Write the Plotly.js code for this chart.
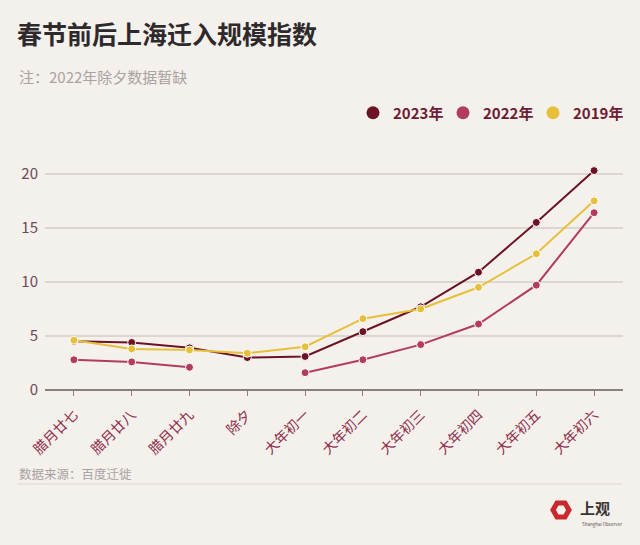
<!DOCTYPE html>
<html>
<head>
<meta charset="utf-8">
<script src="https://cdn.plot.ly/plotly-3.0.1.min.js"></script>
<style>
  body { margin: 0; background: #f4f0eb; }
  #chart { width: 640px; height: 545px; }
</style>
</head>
<body>
<div id="chart"></div>
<script>
// days around the spring festival
var days = ["腊月廿七", "腊月廿八", "腊月廿九", "除夕", "大年初一", "大年初二",
            "大年初三", "大年初四", "大年初五", "大年初六"];

// migration index
var y2023 = [4.5, 4.4, 3.9, 3.0, 3.1, 5.4, 7.7, 10.9, 15.5, 20.3];
var y2022 = [2.8, 2.6, 2.1, null, 1.6, 2.8, 4.2, 6.1, 9.7, 16.4];
var y2019 = [4.6, 3.8, 3.7, 3.4, 4.0, 6.6, 7.5, 9.5, 12.6, 17.5];

var names = ["2023年", "2022年", "2019年"];
var colors = ["#6b1325", "#b23c5e", "#e6c03a"];

var font = "'Noto Sans CJK SC', 'Noto Sans', sans-serif";

// plot box in pixels, used to place the extra texts
var L = 45, R = 623, T = 163, B = 390;
function px(x) { return (x - L) / (R - L); }
function py(y) { return (B - y) / (B - T); }

function series(ys, i) {
  return {
    x: days, y: ys, name: names[i],
    type: "scatter", mode: "lines+markers",
    connectgaps: false, showlegend: false,
    line: { color: colors[i], width: 2 },
    marker: { color: colors[i], size: 8, line: { color: "#ffffff", width: 1 } }
  };
}

// legend shows only dots, so use empty marker traces for it
function legendDot(i) {
  return {
    x: [null], y: [null], name: names[i],
    type: "scatter", mode: "markers",
    marker: { color: colors[i], size: 13 }
  };
}

var data = [
  series(y2023, 0), series(y2022, 1), series(y2019, 2),
  legendDot(0), legendDot(1), legendDot(2)
];

// red hexagon of the logo
var hx = 561, hy = 510, hr = 8;
var hex = "";
for (var i = 0; i < 6; i++) {
  var a = i * Math.PI / 3;
  hex += (i == 0 ? "M" : "L") + px(hx + hr * Math.cos(a)) + "," + py(hy + hr * Math.sin(a));
}
hex += "Z";

var layout = {
  width: 640, height: 545,
  paper_bgcolor: "#f4f0eb",
  plot_bgcolor: "#f4f0eb",
  margin: { l: L, r: 640 - R, t: T, b: 545 - B },
  font: { family: font },
  title: {
    text: "<b>春节前后上海迁入规模指数</b>",
    font: { size: 25, color: "#2e2a2b", family: font },
    x: 17 / 640, xanchor: "left", xref: "container",
    y: 1 - 35 / 545, yanchor: "middle", yref: "container"
  },
  showlegend: true,
  legend: {
    orientation: "h",
    x: 1, xanchor: "right",
    y: py(113), yanchor: "middle",
    font: { size: 15, color: "#6e1c34", family: font, weight: "bold" },
    itemwidth: 30,
    entrywidth: 45, entrywidthmode: "pixels",
    bgcolor: "rgba(0,0,0,0)"
  },
  xaxis: {
    type: "category",
    range: [-0.5, 9.5],
    tickangle: -45,
    tickfont: { size: 14, color: "#8e2e4c", family: font },
    ticks: "outside", ticklen: 5, tickcolor: "#8a8080",
    ticklabelstandoff: 5,
    showline: false,
    showgrid: false,
    fixedrange: true
  },
  yaxis: {
    range: [0, 21],
    tickvals: [0, 5, 10, 15, 20],
    tickfont: { size: 15, color: "#6e4a58", family: font },
    showgrid: true, gridcolor: "#dcd6d0", gridwidth: 1.5,
    zeroline: true, zerolinecolor: "#8a8080", zerolinewidth: 1.5,
    ticks: "", ticklabelstandoff: 6,
    fixedrange: true
  },
  annotations: [
    { text: "注：2022年除夕数据暂缺", xref: "paper", yref: "paper",
      x: px(17), y: py(77), xanchor: "left", yanchor: "middle", showarrow: false,
      font: { size: 15, color: "#a9a2a2", family: font } },
    { text: "数据来源：百度迁徙", xref: "paper", yref: "paper",
      x: px(17), y: py(473), xanchor: "left", yanchor: "middle", showarrow: false,
      font: { size: 12.5, color: "#a9a2a2", family: font } },
    { text: "<b>上观</b>", xref: "paper", yref: "paper",
      x: px(578), y: py(507), xanchor: "left", yanchor: "middle", showarrow: false,
      font: { size: 15, color: "#3a3436", family: font } },
    { text: "Shanghai Observer", xref: "paper", yref: "paper",
      x: px(580), y: py(524), xanchor: "left", yanchor: "middle", showarrow: false,
      font: { size: 4.5, color: "#5a5456", family: font } }
  ],
  shapes: [
    { type: "line", xref: "paper", yref: "paper",
      x0: px(17), x1: px(622), y0: py(484), y1: py(484),
      line: { color: "#e4dfd9", width: 1.5 } },
    { type: "path", xref: "paper", yref: "paper", path: hex,
      line: { color: "#c8282e", width: 5 }, fillcolor: "rgba(0,0,0,0)" }
  ]
};

Plotly.newPlot("chart", data, layout, { displayModeBar: false, staticPlot: true });
</script>
</body>
</html>
